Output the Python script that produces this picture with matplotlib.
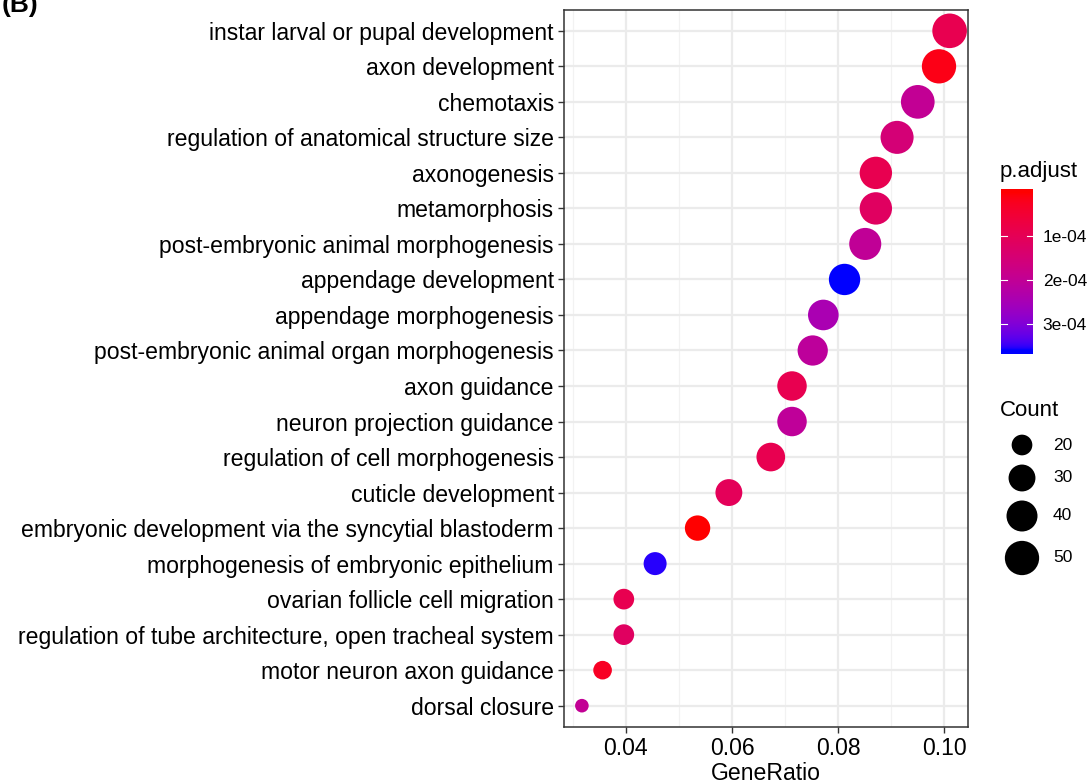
import numpy as np
import matplotlib
matplotlib.use("Agg")
import matplotlib.pyplot as plt

plt.rcParams["font.family"] = ["Liberation Sans", "DejaVu Sans"]

terms = [
    "instar larval or pupal development",
    "axon development",
    "chemotaxis",
    "regulation of anatomical structure size",
    "axonogenesis",
    "metamorphosis",
    "post-embryonic animal morphogenesis",
    "appendage development",
    "appendage morphogenesis",
    "post-embryonic animal organ morphogenesis",
    "axon guidance",
    "neuron projection guidance",
    "regulation of cell morphogenesis",
    "cuticle development",
    "embryonic development via the syncytial blastoderm",
    "morphogenesis of embryonic epithelium",
    "ovarian follicle cell migration",
    "regulation of tube architecture, open tracheal system",
    "motor neuron axon guidance",
    "dorsal closure",
]
gene_ratio = [0.1010, 0.0990, 0.0950, 0.0911, 0.0871, 0.0871, 0.0851, 0.0812,
              0.0772, 0.0752, 0.0713, 0.0713, 0.0673, 0.0594, 0.0535, 0.0455,
              0.0396, 0.0396, 0.0356, 0.0317]
count = [51, 50, 48, 46, 44, 44, 43, 41, 39, 38, 36, 36, 34, 30, 27, 23, 20, 20, 18, 16]
p_adjust = [9.1e-5, 1.55e-5, 1.99e-4, 1.52e-4, 9.1e-5, 1.16e-4, 2.02e-4, 3.6e-4,
            2.45e-4, 2.09e-4, 9.1e-5, 2.06e-4, 9.1e-5, 1.05e-4, 1.2e-6, 3.55e-4,
            9.1e-5, 1.16e-4, 2.99e-5, 1.99e-4]
x_ticks = [0.04, 0.06, 0.08, 0.10]
cbar_ticks = [1e-4, 2e-4, 3e-4]
size_breaks = [20, 30, 40, 50]


# red -> blue gradient interpolated in CIE Lab
def srgb_to_lab(rgb):
    c = np.asarray(rgb, float)
    lin = np.where(c <= 0.04045, c / 12.92, ((c + 0.055) / 1.055) ** 2.4)
    m = np.array([[0.4124, 0.3576, 0.1805],
                  [0.2126, 0.7152, 0.0722],
                  [0.0193, 0.1192, 0.9505]])
    xyz = m @ lin / np.array([0.95047, 1.0, 1.08883])
    f = np.where(xyz > 0.008856, np.cbrt(xyz), 7.787 * xyz + 16 / 116)
    return np.array([116 * f[1] - 16, 500 * (f[0] - f[1]), 200 * (f[1] - f[2])])


def lab_to_srgb(lab):
    L, a, b = lab
    fy = (L + 16) / 116
    f = np.array([fy + a / 500, fy, fy - b / 200])
    xyz = np.where(f ** 3 > 0.008856, f ** 3, (f - 16 / 116) / 7.787)
    xyz = xyz * np.array([0.95047, 1.0, 1.08883])
    m = np.array([[3.2406, -1.5372, -0.4986],
                  [-0.9689, 1.8758, 0.0415],
                  [0.0557, -0.2040, 1.0570]])
    lin = np.clip(m @ xyz, 0, 1)
    c = np.where(lin <= 0.0031308, 12.92 * lin, 1.055 * lin ** (1 / 2.4) - 0.055)
    return np.clip(c, 0, 1)


LAB_LOW = srgb_to_lab([1, 0, 0])
LAB_HIGH = srgb_to_lab([0, 0, 1])
p_min, p_max = min(p_adjust), max(p_adjust)


def pcolor(p):
    t = np.clip((p - p_min) / (p_max - p_min), 0, 1)
    return lab_to_srgb(LAB_LOW + t * (LAB_HIGH - LAB_LOW))


c_min, c_max = min(count), max(count)


def dot_size(c):
    # diameter in pixels, area scaled like scale_size
    d = 13.6 + 21.0 * np.sqrt((np.asarray(c, float) - c_min) / (c_max - c_min))
    return (d * 0.72) ** 2


W, H = 1090, 784
fig = plt.figure(figsize=(W / 100, H / 100), dpi=100)


def box(x0, y0, x1, y1):
    return [x0 / W, 1 - y1 / H, (x1 - x0) / W, (y1 - y0) / H]


ax = fig.add_axes(box(563.5, 9.5, 968, 727))
n = len(terms)
ypos = np.arange(n)[::-1]
ax.scatter(gene_ratio, ypos, s=dot_size(count), c=[pcolor(p) for p in p_adjust],
           linewidths=0, zorder=3)

xr = max(gene_ratio) - min(gene_ratio)
ax.set_xlim(min(gene_ratio) - 0.05 * xr, max(gene_ratio) + 0.05 * xr)
ax.set_ylim(-0.6, n - 0.4)
ax.set_yticks(ypos)
ax.set_yticklabels(terms, fontsize=16.6, color="black")
ax.set_xticks(x_ticks)
ax.set_xticklabels([f"{v:.2f}" for v in x_ticks], fontsize=16.6, color="black")
ax.set_xticks([0.03, 0.05, 0.07, 0.09], minor=True)
ax.tick_params(axis="both", which="major", length=4, width=1, color="#333333", pad=3)
ax.tick_params(axis="x", which="minor", length=0)
ax.grid(True, which="major", color="#EBEBEB", lw=1.6, zorder=0)
ax.grid(True, which="minor", axis="x", color="#F2F2F2", lw=0.9, zorder=0)
ax.set_axisbelow(True)
for sp in ax.spines.values():
    sp.set_color("#333333")
    sp.set_linewidth(1.1)
ax.set_xlabel("GeneRatio", fontsize=16.6, labelpad=2)

fig.text(2 / W, 1 - 12 / H, "(B)", fontsize=19, fontweight="bold", va="baseline")

# p.adjust colour bar
fig.text(1000 / W, 1 - 177 / H, "p.adjust", fontsize=16, va="baseline")
cax = fig.add_axes(box(1001, 189, 1033, 354))
pad = 0.025 / 0.95 * (p_max - p_min)
lo, hi = p_min - pad, p_max + pad
vals = np.linspace(lo, hi, 300)
grad = np.array([pcolor(v) for v in vals])[:, None, :]
cax.imshow(grad, aspect="auto", extent=(0, 1, lo, hi), origin="lower")
cax.set_ylim(hi, lo)
cax.set_xlim(0, 1)
cax.set_xticks([])
cax.set_yticks(cbar_ticks)
cax.yaxis.tick_right()
cax.set_yticklabels(["1e-04", "2e-04", "3e-04"], fontsize=12.5)
cax.tick_params(axis="y", length=0, pad=7)
for v in cbar_ticks:
    cax.plot([0, 0.2], [v, v], color="white", lw=0.8)
    cax.plot([0.8, 1], [v, v], color="white", lw=0.8)
for sp in cax.spines.values():
    sp.set_visible(False)

# Count size legend
fig.text(1000 / W, 1 - 416 / H, "Count", fontsize=16, va="baseline")
lax = fig.add_axes(box(995, 425, 1090, 580))
lax.set_xlim(995, 1090)
lax.set_ylim(580, 425)
lax.axis("off")
key_y = [445, 478, 516, 558]
lax.scatter([1022] * len(size_breaks), key_y, s=dot_size(size_breaks), color="black",
            linewidths=0)
for yy, b in zip(key_y, size_breaks):
    lax.text(1053, yy, str(b), fontsize=12.5, va="center", ha="left")

fig.savefig("out.png", dpi=100)
